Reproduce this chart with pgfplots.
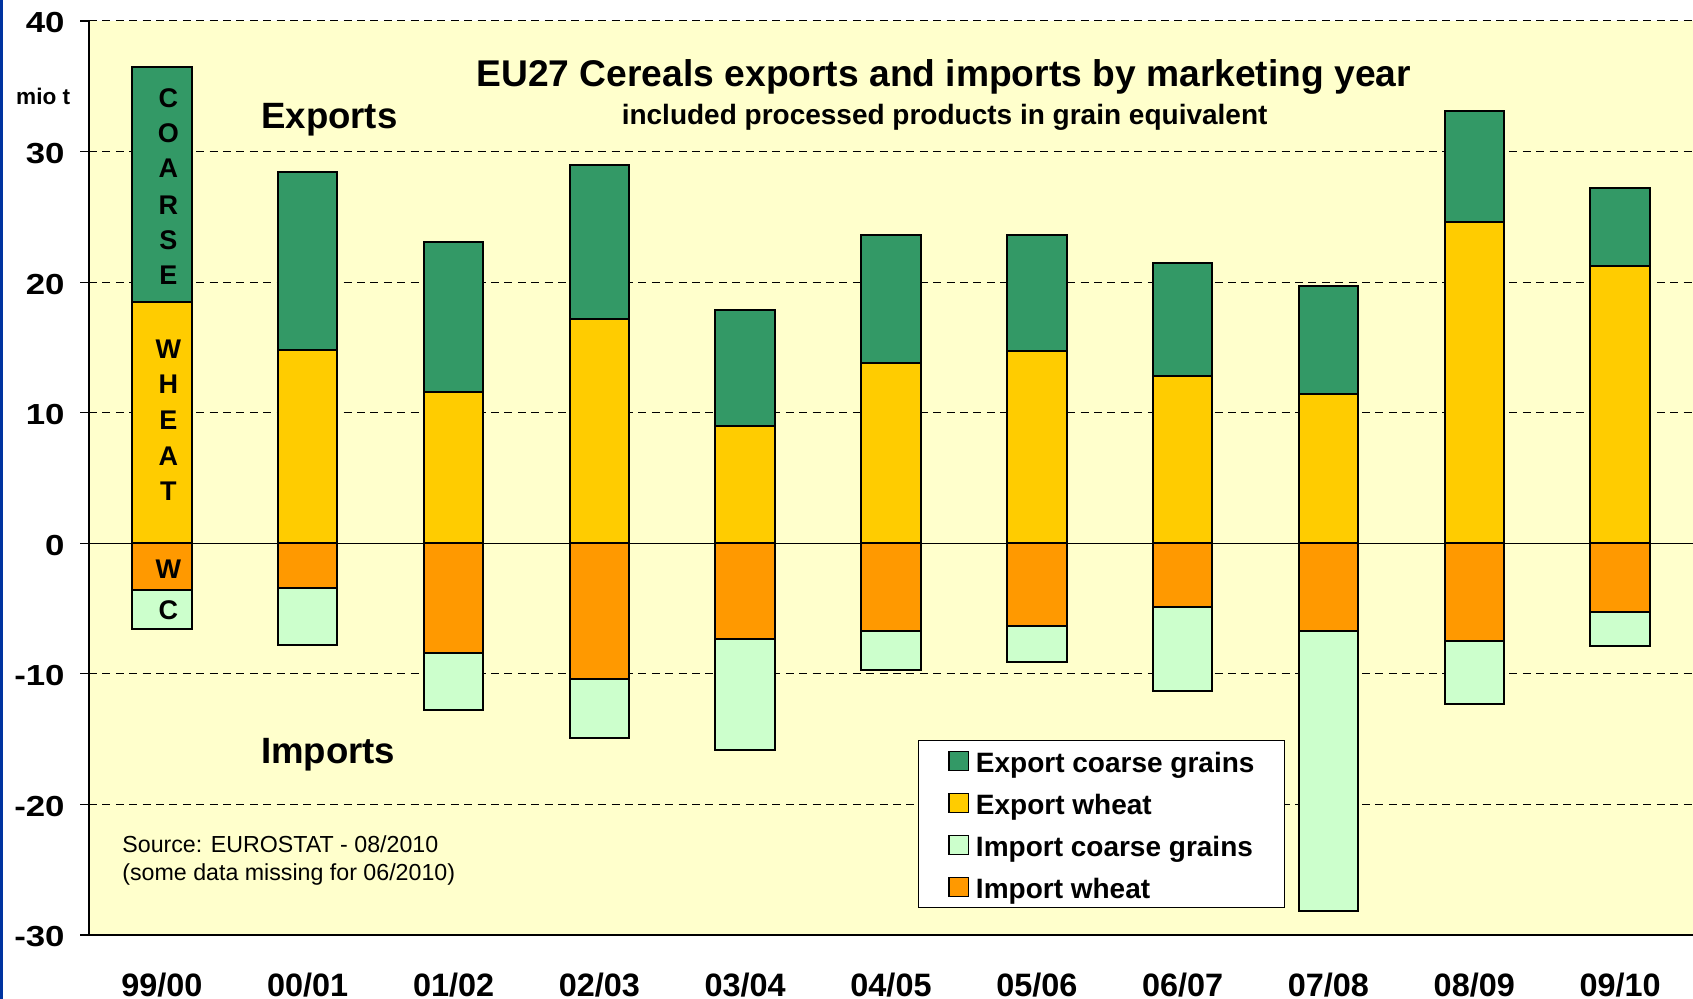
\documentclass[border=0pt]{standalone}
\usepackage{pgfplots}
\pgfplotsset{compat=1.18}
\usepackage{pgfplotstable}
\usepackage{graphicx}
\usepackage{fontspec}
\setmainfont{Liberation Sans}
\definecolor{expc}{HTML}{339966}
\definecolor{expw}{HTML}{FFCC00}
\definecolor{impc}{HTML}{CCFFCC}
\definecolor{impw}{HTML}{FF9900}
\definecolor{bgy}{HTML}{FFFFCC}
\definecolor{blueb}{HTML}{0033A0}

\pgfplotstableread{
i  et    ew    it     iw
0  36.5  18.5  -6.6   -3.6
1  28.4  14.8  -7.8   -3.4
2  23.1  11.6  -12.8  -8.4
3  29.0  17.2  -14.9  -10.4
4  17.9  9.0   -15.8  -7.3
5  23.6  13.8  -9.7   -6.7
6  23.6  14.7  -9.1   -6.3
7  21.5  12.8  -11.3  -4.9
8  19.7  11.4  -28.2  -6.75
9  33.1  24.6  -12.3  -7.5
10 27.2  21.2  -7.85  -5.25
}\data

\begin{document}
\begin{tikzpicture}
\fill[white] (-44.5pt,-32pt) rectangle (802pt,467.5pt);
\useasboundingbox (-44.5pt,-32pt) rectangle (802pt,467.5pt);
\fill[blueb] (-44.5pt,-32pt) rectangle (-43pt,467.5pt);
\begin{axis}[
  at={(0pt,0pt)}, anchor=south west,
  width=802pt, height=457pt, scale only axis,
  xmin=-0.5, xmax=10.5, ymin=-30, ymax=40,
  ybar, bar width=29.7pt, bar shift=0pt,
  every axis plot post/.append style={bar shift=0pt,
    legend image code/.code={\draw[##1, draw=black, line width=0.6pt] (0pt,-4.85pt) rectangle (9.7pt,4.85pt); \path (13pt,0pt);}},
  axis background/.style={fill=bgy},
  axis lines*=left, axis line style={-, black, line width=0.8pt},
  xtick={0,...,10},
  xticklabels={99/00,00/01,01/02,02/03,03/04,04/05,05/06,06/07,07/08,08/09,09/10},
  xtick style={draw=none},
  ytick={-30,-20,...,40},
  ymajorgrids,
  major grid style={black, line width=0.5pt, dash pattern=on 4pt off 2.7pt},
  tick align=outside, major tick length=4.5pt,
  ytick style={black, line width=0.6pt},
  /pgf/number format/assume math mode=true,
  yticklabel style={font=\bfseries\fontsize{14.5}{14.5}\selectfont, anchor=east, inner sep=0pt, xshift=-7.5pt, yshift=-1pt},
  yticklabel={\scalebox{1.2}[1]{\pgfmathprintnumber{\tick}}},
  xticklabel style={font=\bfseries\fontsize{16.2}{16.2}\selectfont, anchor=base, inner sep=0pt, yshift=-26.5pt},
  clip=false,
  legend cell align=left,
  legend style={at={(0.5167,0.0295)}, anchor=south west, draw=black, line width=0.6pt, fill=white,
    font=\bfseries\fontsize{14}{14}\selectfont, inner xsep=15pt, inner ysep=3.7pt, row sep=8pt,
    nodes={text height=12.2pt, text depth=0.8pt, inner sep=0pt}},
]
\draw[black, line width=0.6pt] (axis cs:-0.5,0) -- (axis cs:10.5,0);
\addplot[fill=expc, draw=black, line width=1pt] table[x=i,y=et]{\data};
\addlegendentry{Export coarse grains}
\addplot[fill=expw, draw=black, line width=1pt] table[x=i,y=ew]{\data};
\addlegendentry{Export wheat}
\addplot[fill=impc, draw=black, line width=1pt] table[x=i,y=it]{\data};
\addlegendentry{Import coarse grains}
\addplot[fill=impw, draw=black, line width=1pt] table[x=i,y=iw]{\data};
\addlegendentry{Import wheat}

\begin{scope}[every node/.style={font=\bfseries\fontsize{13.5}{13.5}\selectfont, inner sep=0pt}]
\node at (axis cs:0.045,34.1) {C};
\node at (axis cs:0.045,31.4) {O};
\node at (axis cs:0.045,28.7) {A};
\node at (axis cs:0.045,25.9) {R};
\node at (axis cs:0.045,23.2) {S};
\node at (axis cs:0.045,20.5) {E};
\node at (axis cs:0.045,14.9) {W};
\node at (axis cs:0.045,12.2) {H};
\node at (axis cs:0.045,9.4) {E};
\node at (axis cs:0.045,6.7) {A};
\node at (axis cs:0.045,4.0) {T};
\node at (axis cs:0.045,-2.0) {W};
\node at (axis cs:0.045,-5.1) {C};
\end{scope}
\end{axis}
\node[anchor=base, inner sep=0pt, font=\bfseries\fontsize{18.6}{18.6}\selectfont] at (427.4pt,424.3pt) {EU27 Cereals exports and imports by marketing year};
\node[anchor=base, inner sep=0pt, font=\bfseries\fontsize{14}{14}\selectfont] at (427.8pt,405.3pt) {included processed products in grain equivalent};
\node[anchor=base, inner sep=0pt, font=\bfseries\fontsize{18.3}{18.3}\selectfont] at (120.2pt,403.3pt) {Exports};
\node[anchor=base, inner sep=0pt, font=\bfseries\fontsize{18.3}{18.3}\selectfont] at (119.6pt,85.8pt) {Imports};
\node[anchor=base, inner sep=0pt, font=\bfseries\fontsize{11.3}{11.3}\selectfont] at (-22.9pt,415.1pt) {mio t};
\node[anchor=base west, inner sep=0pt, font=\fontsize{11.6}{11.6}\selectfont] at (16.5pt,41pt) {Source: EUROSTAT - 08/2010};
\node[anchor=base west, inner sep=0pt, font=\fontsize{11.6}{11.6}\selectfont] at (16.5pt,27pt) {(some data missing for 06/2010)};
\end{tikzpicture}
\end{document}
